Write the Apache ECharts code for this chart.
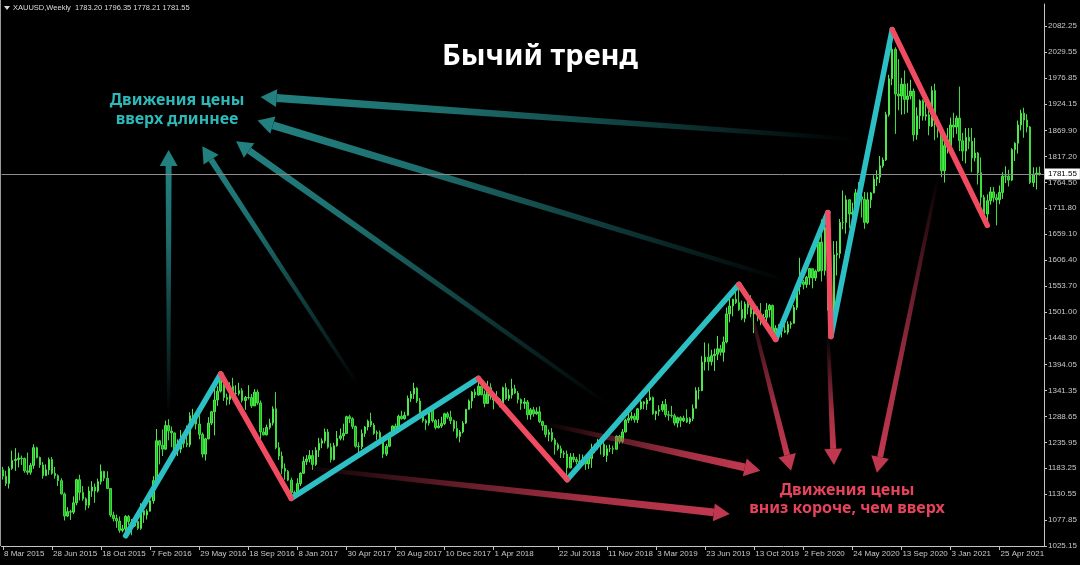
<!DOCTYPE html>
<html><head><meta charset="utf-8">
<script src="https://cdn.jsdelivr.net/npm/echarts@6/dist/echarts.min.js"></script>
<style>html,body{margin:0;padding:0;background:#000;}#c{width:1080px;height:565px;}</style>
</head><body><div id="c"></div>
<script>
// ---------- data ----------
const firstOpen = 1180;
const closes = [1167,
 1152,1183,1199,1201,1204,1203,1178,1175,1189,1225,
 1205,1190,1168,1180,1201,1173,1168,1158,1131,1086,
 1095,1094,1113,1160,1134,1121,1108,1137,1145,1137,
 1156,1177,1163,1142,1088,1081,1076,1057,1060,1085,
 1075,1066,1075,1061,1097,1088,1096,1117,1158,1239,
 1230,1222,1270,1259,1255,1220,1222,1243,1234,1231,
 1290,1290,1273,1252,1212,1243,1275,1298,1322,1340,
 1366,1327,1323,1350,1335,1335,1341,1321,1327,1327,
 1310,1338,1316,1257,1251,1266,1275,1304,1225,1208,
 1183,1177,1159,1134,1132,1152,1173,1197,1202,1209,
 1191,1220,1234,1239,1257,1226,1201,1229,1244,1249,
 1254,1288,1284,1268,1228,1227,1254,1267,1279,1271,
 1254,1256,1241,1212,1228,1254,1269,1258,1289,1284,
 1291,1325,1334,1346,1320,1297,1280,1275,1304,1280,
 1266,1269,1274,1294,1287,1280,1264,1248,1257,1275,
 1303,1320,1338,1332,1350,1333,1315,1347,1330,1322,
 1323,1313,1347,1325,1332,1345,1336,1323,1315,1318,
 1292,1302,1294,1298,1278,1270,1252,1256,1241,1231,
 1223,1214,1212,1184,1206,1201,1197,1194,1199,1192,
 1203,1222,1227,1235,1232,1209,1223,1223,1222,1248,
 1238,1257,1281,1285,1289,1282,1304,1318,1314,1322,
 1327,1294,1299,1302,1313,1292,1291,1290,1275,1286,
 1280,1285,1277,1284,1305,1341,1341,1399,1409,1400,
 1412,1415,1426,1419,1440,1497,1513,1527,1520,1506,
 1488,1517,1510,1497,1504,1496,1488,1490,1505,1514,
 1459,1468,1462,1463,1460,1476,1478,1510,1552,1562,
 1557,1571,1589,1570,1584,1643,1585,1673,1529,1498,
 1617,1620,1683,1683,1729,1700,1703,1743,1735,1730,
 1683,1729,1743,1771,1775,1798,1810,1902,1975,2035,
 1944,1940,1964,1933,1940,1950,1861,1900,1930,1899,
 1902,1879,1951,1889,1871,1788,1839,1839,1881,1877,
 1895,1849,1828,1856,1848,1814,1824,1784,1734,1700,
 1727,1745,1733,1729,1744,1777,1777,1769,1831,1844,
 1881,1905,1891,1877,1764,1781,1783.2,1781.55];
const highs = [1186,
 1178,1187,1219,1224,1215,1209,1205,1215,1194,1232,
 1227,1207,1196,1191,1205,1206,1186,1171,1163,1134,
 1104,1099,1126,1162,1170,1147,1124,1146,1157,1152,
 1162,1191,1178,1177,1143,1095,1089,1085,1068,1088,
 1088,1080,1081,1082,1112,1105,1100,1127,1167,1263,
 1240,1262,1280,1283,1268,1256,1242,1261,1245,1270,
 1297,1304,1290,1291,1256,1245,1287,1300,1362,1350,
 1375,1368,1335,1358,1367,1352,1357,1346,1330,1352,
 1334,1344,1343,1321,1265,1272,1284,1309,1338,1236,
 1217,1193,1180,1164,1138,1163,1175,1207,1210,1220,
 1220,1226,1245,1244,1264,1263,1234,1235,1259,1264,
 1274,1290,1292,1287,1270,1236,1262,1269,1282,1296,
 1275,1260,1260,1242,1233,1257,1270,1274,1292,1300,
 1298,1331,1340,1357,1348,1326,1300,1283,1306,1306,
 1283,1283,1288,1296,1298,1300,1282,1279,1261,1279,
 1304,1323,1340,1345,1366,1355,1341,1361,1356,1333,
 1340,1326,1349,1356,1344,1365,1353,1340,1325,1326,
 1322,1306,1308,1307,1309,1280,1271,1262,1265,1245,
 1235,1229,1219,1219,1214,1214,1206,1212,1211,1204,
 1209,1233,1233,1243,1243,1237,1230,1231,1229,1250,
 1251,1263,1284,1299,1298,1295,1306,1326,1320,1326,
 1346,1329,1300,1311,1320,1324,1300,1310,1294,1288,
 1289,1290,1303,1287,1313,1348,1348,1411,1439,1437,
 1424,1426,1452,1434,1451,1510,1535,1527,1555,1557,
 1524,1522,1528,1535,1519,1512,1519,1497,1519,1517,
 1516,1474,1476,1474,1484,1482,1482,1515,1557,1611,
 1566,1574,1590,1589,1587,1649,1689,1676,1703,1576,
 1645,1645,1690,1748,1738,1730,1723,1751,1765,1739,
 1745,1744,1745,1779,1789,1818,1815,1908,1983,2075,
 2039,2015,1977,1992,1966,1973,1955,1917,1933,1933,
 1932,1911,1960,1965,1898,1875,1848,1875,1896,1906,
 1900,1959,1865,1875,1875,1875,1855,1826,1815,1739,
 1740,1755,1755,1741,1758,1785,1797,1790,1834,1846,
 1890,1912,1916,1903,1879,1795,1795,1796.35];
const lows = [1160,
 1147,1142,1180,1178,1185,1190,1174,1170,1170,1182,
 1203,1184,1162,1168,1170,1170,1162,1147,1130,1077,
 1084,1078,1090,1108,1118,1117,1098,1102,1125,1113,
 1134,1150,1157,1141,1084,1075,1062,1052,1053,1046,
 1068,1047,1064,1058,1058,1072,1079,1095,1111,1150,
 1191,1208,1221,1240,1226,1213,1208,1214,1225,1226,
 1226,1270,1262,1242,1205,1199,1242,1271,1250,1310,
 1337,1320,1311,1313,1333,1331,1331,1317,1302,1323,
 1306,1310,1312,1241,1250,1250,1262,1270,1222,1200,
 1171,1160,1157,1122,1124,1128,1147,1172,1190,1195,
 1180,1188,1206,1224,1234,1223,1195,1199,1227,1240,
 1240,1253,1275,1263,1225,1214,1222,1247,1260,1267,
 1251,1241,1236,1204,1208,1226,1250,1256,1255,1282,
 1282,1290,1318,1324,1316,1294,1276,1261,1270,1276,
 1262,1264,1265,1271,1283,1273,1258,1244,1236,1254,
 1273,1302,1305,1326,1331,1331,1307,1315,1323,1303,
 1317,1307,1309,1322,1320,1325,1334,1315,1302,1304,
 1282,1282,1288,1292,1275,1260,1246,1238,1237,1211,
 1219,1204,1204,1160,1183,1195,1191,1193,1191,1180,
 1182,1184,1214,1221,1211,1206,1196,1216,1212,1221,
 1233,1234,1256,1275,1280,1276,1275,1302,1303,1302,
 1320,1292,1281,1290,1298,1287,1280,1286,1270,1266,
 1267,1277,1275,1273,1279,1305,1323,1340,1382,1382,
 1392,1381,1403,1412,1400,1437,1480,1492,1517,1503,
 1484,1480,1496,1490,1458,1482,1474,1475,1480,1490,
 1456,1445,1456,1449,1458,1455,1467,1477,1505,1536,
 1547,1550,1556,1549,1564,1583,1563,1575,1504,1451,
 1466,1575,1610,1669,1660,1671,1681,1690,1718,1693,
 1670,1680,1712,1742,1757,1763,1794,1808,1898,1962,
 1863,1911,1902,1903,1906,1933,1848,1851,1873,1890,
 1890,1860,1877,1850,1855,1775,1764,1823,1826,1855,
 1863,1828,1808,1803,1832,1785,1807,1760,1717,1687,
 1677,1719,1724,1677,1720,1731,1763,1756,1767,1808,
 1823,1870,1855,1866,1761,1755,1750,1778.21];

const tickBars = [0,16,32,48,64,80,96,112,128,144,160,181,197,213,229,245,261,277,293,309,325];
const tickLabels = ['8 Mar 2015','28 Jun 2015','18 Oct 2015','7 Feb 2016','29 May 2016','18 Sep 2016','8 Jan 2017','30 Apr 2017','20 Aug 2017','10 Dec 2017','1 Apr 2018','22 Jul 2018','11 Nov 2018','3 Mar 2019','23 Jun 2019','13 Oct 2019','2 Feb 2020','24 May 2020','13 Sep 2020','3 Jan 2021','25 Apr 2021'];
const priceTicks = [2082.25,2029.55,1976.85,1924.15,1869.90,1817.20,1764.50,1711.80,1659.10,1606.40,1553.70,1501.00,1448.30,1394.05,1341.35,1288.65,1235.95,1183.25,1130.55,1077.85,1025.15];
const bidPrice = 1781.55;
const headerText = 'XAUUSD,Weekly  1783.20 1796.35 1778.21 1781.55';
// swing points [bar, price]
const zigzag = [[40,1046],[71,1375],[94,1122],[155,1366],[184,1160],[240,1557],[252,1445],[269,1703],[270,1451],[290,2075],[321,1677]];
// annotation arrows: [tail, head] in [bar, price]
const upArrows = [
 [[277.5,1852],[83.5,1938]],
 [[255.5,1564],[82.5,1890]],
 [[196.7,1314],[76.3,1848]],
 [[115.8,1350],[64.5,1838]],
 [[53.7,1293],[53.7,1830]]
];
const downArrows = [
 [[93.3,1188],[237.3,1090]],
 [[176.4,1275],[247.3,1178]],
 [[242.7,1525],[257.0,1178]],
 [[269.1,1454],[270.9,1190]],
 [[304.6,1779],[285.4,1174]]
];
const titleText = 'Бычий тренд';
const upText = 'Движения цены\nвверх длиннее';
const downText = 'Движения цены\nвниз короче, чем вверх';

// ---------- build ----------
const N = 340;
const cats = Array.from({length: N}, (_, i) => String(i));
const opens = closes.map((c, i) => i === 0 ? firstOpen : closes[i - 1]);
const candles = closes.map((c, i) => [opens[i], c, lows[i], highs[i]]);

const TEAL = '#2cbfc3', RED = '#f04b60';
const zigSeries = [];
for (let i = 0; i < zigzag.length - 1; i++) {
  zigSeries.push({
    type: 'line', data: [zigzag[i], zigzag[i + 1]], symbol: 'none', silent: true,
    z: i % 2 === 0 ? 5 : 6,
    lineStyle: { color: i % 2 === 0 ? TEAL : RED, width: 5.5, cap: 'round' }
  });
}

const chart = echarts.init(document.getElementById('c'), null, { renderer: 'canvas' });
const option = {
  backgroundColor: '#000000',
  animation: false,
  grid: { left: 1.5, right: 36, top: 4, bottom: 19, containLabel: false, outerBoundsMode: 'none' },
  xAxis: {
    type: 'category', data: cats, boundaryGap: true,
    axisLine: { show: true, lineStyle: { color: '#c4c4c4', width: 1 } },
    axisTick: { show: true, alignWithLabel: true, length: 4, interval: (i) => tickBars.includes(i), lineStyle: { color: '#c4c4c4' } },
    axisLabel: {
      show: true, interval: (i) => tickBars.includes(i),
      formatter: (v, i) => { const k = tickBars.indexOf(i); return k >= 0 ? tickLabels[k] : ''; },
      align: 'left', color: '#c8c8c8', fontSize: 8, fontFamily: 'Liberation Sans', margin: 4, padding: [0, 0, 0, 1]
    },
    splitLine: { show: false }
  },
  yAxis: {
    type: 'value', position: 'right', min: 1025.15, max: 2127, scale: true,
    axisLine: { show: true, lineStyle: { color: '#c4c4c4', width: 1 } },
    axisTick: { show: true, length: 3, customValues: priceTicks, lineStyle: { color: '#c4c4c4' } },
    axisLabel: { show: true, customValues: priceTicks, formatter: (v) => Number(v).toFixed(2), color: '#c8c8c8', fontSize: 8, fontFamily: 'Liberation Sans', margin: 4 },
    splitLine: { show: false }
  },
  series: [
    {
      type: 'candlestick', data: candles, barWidth: 2, z: 2, silent: true,
      itemStyle: { color: '#1fc41f', color0: '#1fb81f', borderColor: '#4ee84e', borderColor0: '#3fdc3f', borderWidth: 1 },
      markLine: {
        symbol: 'none', silent: true, animation: false,
        lineStyle: { color: '#8c8c8c', width: 1, type: 'solid' },
        label: { show: true, position: 'end', formatter: bidPrice.toFixed(2), backgroundColor: '#ffffff', color: '#000000', fontSize: 8, fontFamily: 'Liberation Sans', padding: [2, 3, 1, 3], distance: 1 },
        data: [{ yAxis: bidPrice }]
      }
    },
    ...zigSeries
  ]
};
chart.setOption(option);

function rgba(hex, a) {
  const r = parseInt(hex.slice(1, 3), 16), g = parseInt(hex.slice(3, 5), 16), b = parseInt(hex.slice(5, 7), 16);
  return 'rgba(' + r + ',' + g + ',' + b + ',' + a + ')';
}
function arrowEls(a, color, w, hl, hw) {
  const t = chart.convertToPixel({ gridIndex: 0 }, a[0]);
  const h = chart.convertToPixel({ gridIndex: 0 }, a[1]);
  const dx = h[0] - t[0], dy = h[1] - t[1], len = Math.hypot(dx, dy);
  const ux = dx / len, uy = dy / len, nx = -uy, ny = ux;
  const b = [h[0] - ux * hl, h[1] - uy * hl];
  const w0 = w * 0.5;
  const shaft = [[t[0] + nx * w0 / 2, t[1] + ny * w0 / 2], [b[0] + nx * w / 2, b[1] + ny * w / 2], [b[0] - nx * w / 2, b[1] - ny * w / 2], [t[0] - nx * w0 / 2, t[1] - ny * w0 / 2]];
  const head = [[h[0], h[1]], [b[0] + nx * hw / 2, b[1] + ny * hw / 2], [b[0] - nx * hw / 2, b[1] - ny * hw / 2]];
  return [
    { type: 'polygon', z: 4, silent: true, shape: { points: shaft },
      style: { fill: { type: 'linear', x: t[0], y: t[1], x2: b[0], y2: b[1], global: true,
        colorStops: [{ offset: 0, color: rgba(color, 0) }, { offset: 0.35, color: rgba(color, 0.45) }, { offset: 0.7, color: rgba(color, 0.85) }, { offset: 1, color: rgba(color, 1) }] } } },
    { type: 'polygon', z: 4, silent: true, shape: { points: head }, style: { fill: rgba(color, 1) } }
  ];
}
const upW = [8, 8, 7, 6, 6], downW = [8, 8, 6, 6, 6];
let els = [];
upArrows.forEach((a, i) => { els = els.concat(arrowEls(a, '#22807f', upW[i], 16, 18)); });
downArrows.forEach((a, i) => { els = els.concat(arrowEls(a, '#c0384f', downW[i], 16, 18)); });

els.push(
  { type: 'line', z: 1, silent: true, shape: { x1: 0.5, y1: 0, x2: 0.5, y2: 546 }, style: { stroke: '#9a9a9a', lineWidth: 1 } },
  { type: 'polygon', z: 7, silent: true, shape: { points: [[4, 6], [10, 6], [7, 10]] }, style: { fill: '#dcdcdc' } },
  { type: 'text', z: 7, silent: true, x: 13, y: 8, style: { text: headerText, fill: '#dcdcdc', font: '7.5px "Liberation Sans"', align: 'left', textAlign: 'left', verticalAlign: 'middle', textVerticalAlign: 'middle' } },
  { type: 'text', z: 7, silent: true, x: 540, y: 57, style: { text: titleText, fill: '#ffffff', font: 'bold 29px "Noto Sans"', align: 'center', textAlign: 'center', verticalAlign: 'middle', textVerticalAlign: 'middle' } },
  { type: 'text', z: 7, silent: true, x: 177, y: 110, style: { text: upText, fill: '#2db9b9', font: 'bold 16px "Noto Sans"', lineHeight: 19, align: 'center', textAlign: 'center', verticalAlign: 'middle', textVerticalAlign: 'middle' } },
  { type: 'text', z: 7, silent: true, x: 847, y: 499, style: { text: downText, fill: '#e8435c', font: 'bold 16px "Noto Sans"', lineHeight: 18, align: 'center', textAlign: 'center', verticalAlign: 'middle', textVerticalAlign: 'middle' } }
);
chart.setOption({ graphic: { elements: els } });
</script>
</body></html>
